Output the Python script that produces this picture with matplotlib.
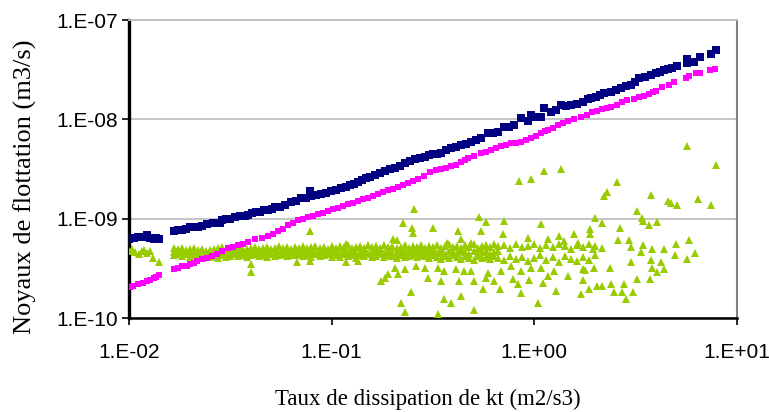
import matplotlib
matplotlib.use("Agg")
import matplotlib.pyplot as plt
import numpy as np

# ---- data (log10 values) ----
navy_lx = [-1.998,-1.988,-1.973,-1.958,-1.943,-1.929,-1.909,-1.894,-1.879,-1.865,-1.850,
           -1.776,-1.756,-1.737,-1.717,-1.697,-1.677,-1.658,-1.638,-1.613,-1.584,-1.549,-1.539,
           -1.520,-1.500,-1.475,-1.451,-1.426,-1.411,-1.392,-1.372,-1.352,-1.333,-1.313,-1.293,
           -1.278,-1.254,-1.229,-1.200,-1.175,-1.150,-1.126,-1.101,-1.106,-1.076,-1.052,-1.027,
           -1.002,-0.978,-0.953,-0.929,-0.909,-0.889,-0.869,-0.850,-0.830,-0.810,-0.786,-0.761,
           -0.736,-0.712,-0.687,-0.663,-0.638,-0.613,-0.589,-0.564,-0.539,-0.520,-0.500,-0.480,
           -0.461,-0.436,-0.411,-0.387,-0.362,-0.337,-0.313,-0.288,-0.264,-0.229,-0.205,-0.180,
           -0.150,-0.126,-0.101,-0.067,-0.032,-0.017,0.007,0.032,0.047,0.081,0.106,0.131,0.155,
           0.180,0.209,0.239,0.263,0.278,0.303,0.323,0.342,0.377,0.401,0.426,0.451,0.475,0.495,
           0.515,0.544,0.574,0.599,0.618,0.638,0.658,0.677,0.702,0.751,0.751,0.786,0.815,0.874,0.894]
navy_ly = [-9.202,-9.192,-9.192,-9.182,-9.182,-9.182,-9.162,-9.192,-9.202,-9.192,-9.202,
           -9.121,-9.111,-9.111,-9.101,-9.081,-9.081,-9.081,-9.071,-9.051,-9.040,-9.040,-9.010,
           -9.000,-9.000,-8.980,-8.970,-8.970,-8.960,-8.939,-8.929,-8.929,-8.909,-8.909,-8.899,
           -8.879,-8.879,-8.859,-8.828,-8.818,-8.788,-8.788,-8.768,-8.717,-8.758,-8.747,-8.737,
           -8.717,-8.707,-8.687,-8.677,-8.657,-8.646,-8.626,-8.606,-8.586,-8.576,-8.556,-8.545,
           -8.525,-8.505,-8.485,-8.465,-8.444,-8.424,-8.404,-8.394,-8.384,-8.364,-8.354,-8.354,
           -8.343,-8.313,-8.293,-8.283,-8.263,-8.253,-8.232,-8.212,-8.192,-8.141,-8.141,-8.131,
           -8.081,-8.081,-8.061,-7.990,-8.020,-7.960,-7.980,-7.980,-7.889,-7.929,-7.909,-7.859,-7.869,
           -7.859,-7.848,-7.828,-7.798,-7.788,-7.778,-7.758,-7.737,-7.727,-7.707,-7.687,-7.667,-7.657,-7.626,
           -7.586,-7.576,-7.556,-7.535,-7.525,-7.505,-7.495,-7.485,-7.465,-7.434,-7.394,-7.424,-7.374,-7.343,-7.303]

magenta_lx = [-2.000,-1.993,-1.978,-1.958,-1.933,-1.909,-1.894,-1.879,-1.865,-1.850,
              -1.776,-1.756,-1.737,-1.712,-1.697,-1.677,-1.663,-1.638,-1.613,-1.589,-1.564,-1.539,
              -1.510,-1.485,-1.461,-1.436,-1.411,-1.377,-1.342,-1.313,-1.288,-1.264,-1.239,-1.214,
              -1.190,-1.165,-1.140,-1.116,-1.091,-1.067,-1.042,-1.017,-0.993,-0.968,-0.943,-0.919,
              -0.894,-0.869,-0.845,-0.820,-0.796,-0.771,-0.746,-0.722,-0.697,-0.672,-0.648,-0.623,
              -0.598,-0.574,-0.544,-0.515,-0.485,-0.461,-0.436,-0.411,-0.387,-0.362,-0.342,-0.328,
              -0.298,-0.264,-0.239,-0.214,-0.190,-0.165,-0.140,-0.116,-0.091,-0.067,-0.042,-0.017,
              0.007,0.032,0.052,0.067,0.091,0.116,0.140,0.165,0.195,0.229,0.259,0.283,0.308,0.332,
              0.357,0.377,0.406,0.431,0.456,0.490,0.515,0.539,0.564,0.584,0.599,0.628,0.663,0.687,
              0.746,0.761,0.796,0.815,0.869,0.889]
magenta_ly = [-9.687,-9.687,-9.677,-9.657,-9.646,-9.626,-9.616,-9.596,-9.586,-9.566,
              -9.505,-9.495,-9.475,-9.475,-9.455,-9.444,-9.424,-9.404,-9.394,-9.374,-9.354,-9.323,
              -9.293,-9.283,-9.263,-9.253,-9.232,-9.202,-9.192,-9.172,-9.152,-9.121,-9.101,-9.061,
              -9.040,-9.010,-9.000,-8.980,-8.970,-8.949,-8.939,-8.919,-8.899,-8.889,-8.869,-8.848,
              -8.838,-8.818,-8.798,-8.788,-8.768,-8.747,-8.727,-8.707,-8.697,-8.677,-8.657,-8.636,
              -8.616,-8.596,-8.566,-8.535,-8.515,-8.495,-8.485,-8.465,-8.455,-8.434,-8.414,-8.394,
              -8.374,-8.343,-8.333,-8.313,-8.293,-8.273,-8.263,-8.242,-8.242,-8.232,-8.212,-8.192,
              -8.172,-8.141,-8.121,-8.111,-8.091,-8.061,-8.040,-8.020,-8.000,-7.980,-7.960,-7.929,
              -7.919,-7.899,-7.889,-7.879,-7.859,-7.828,-7.808,-7.798,-7.778,-7.768,-7.747,-7.727,
              -7.717,-7.677,-7.657,-7.626,-7.586,-7.566,-7.535,-7.535,-7.505,-7.495]

green_left_lx = [-1.998,-1.983,-1.968,-1.953,-1.938,-1.924,-1.909,-1.894,-1.884,-1.850]
green_left_ly = [-9.323,-9.303,-9.333,-9.354,-9.323,-9.313,-9.343,-9.323,-9.394,-9.434]

green_band_lx = [-1.78,-1.76,-1.74,-1.72,-1.70,-1.68,-1.66,-1.64,-1.62,-1.60,
                 -1.58,-1.56,-1.54,-1.52,-1.50,-1.48,-1.46,-1.44,-1.42,-1.40,
                 -1.38,-1.36,-1.34,-1.32,-1.30,-1.28,-1.26,-1.24,-1.22,-1.20,
                 -1.18,-1.16,-1.14,-1.12,-1.10,-1.08,-1.06,-1.04,-1.02,-1.00,
                 -0.98,-0.96,-0.94,-0.92,-0.90,-0.88,-0.86,-0.84,-0.82,-0.80,
                 -0.78,-0.76,-0.74,-0.72,-0.70,-0.68,-0.66,-0.64,-0.62,-0.60,
                 -0.58,-0.56,-0.54,-0.52,-0.50,-0.48,-0.46,-0.44,-0.42,-0.40,
                 -0.38,-0.36,-0.34,-0.32,-0.30,-0.28,-0.26,-0.24,-0.22,-0.20,
                 -0.18,-0.15,-0.12,-0.09,-0.06,-0.03,0.00,0.03,0.06,0.09,0.12,0.15,
                 0.18,0.21,0.24,0.27,0.30]
green_band_upper_ly = [-9.30,-9.31,-9.30,-9.32,-9.31,-9.30,-9.32,-9.31,-9.33,-9.32,
                       -9.31,-9.30,-9.29,-9.31,-9.30,-9.31,-9.29,-9.30,-9.31,-9.30,
                       -9.29,-9.31,-9.30,-9.29,-9.31,-9.30,-9.28,-9.30,-9.29,-9.31,
                       -9.29,-9.30,-9.28,-9.30,-9.29,-9.28,-9.30,-9.29,-9.31,-9.28,
                       -9.30,-9.28,-9.29,-9.27,-9.30,-9.29,-9.28,-9.30,-9.27,-9.29,
                       -9.28,-9.30,-9.27,-9.29,-9.28,-9.30,-9.29,-9.27,-9.30,-9.28,
                       -9.29,-9.27,-9.30,-9.28,-9.29,-9.27,-9.30,-9.28,-9.26,-9.29,
                       -9.28,-9.30,-9.27,-9.29,-9.26,-9.30,-9.28,-9.27,-9.29,-9.26,
                       -9.28,-9.27,-9.30,-9.26,-9.29,-9.28,-9.25,-9.30,-9.27,-9.29,-9.26,-9.28,
                       -9.31,-9.27,-9.29,-9.25,-9.28]
green_band_lower_ly = [-9.37,-9.36,-9.38,-9.36,-9.39,-9.37,-9.38,-9.40,-9.38,-9.39,
                       -9.38,-9.40,-9.37,-9.39,-9.38,-9.36,-9.38,-9.37,-9.39,-9.37,
                       -9.36,-9.38,-9.37,-9.39,-9.36,-9.38,-9.37,-9.36,-9.38,-9.37,
                       -9.37,-9.36,-9.38,-9.37,-9.39,-9.36,-9.38,-9.37,-9.36,-9.39,
                       -9.37,-9.39,-9.36,-9.38,-9.37,-9.40,-9.37,-9.38,-9.36,-9.39,
                       -9.38,-9.36,-9.39,-9.37,-9.38,-9.40,-9.37,-9.39,-9.38,-9.37,
                       -9.39,-9.37,-9.38,-9.40,-9.37,-9.39,-9.41,-9.38,-9.40,-9.37,
                       -9.39,-9.41,-9.38,-9.40,-9.42,-9.38,-9.40,-9.39,-9.41,-9.38,
                       -9.40,-9.42,-9.38,-9.41,-9.39,-9.43,-9.40,-9.37,-9.42,-9.39,-9.44,-9.38,
                       -9.41,-9.43,-9.39,-9.42,-9.37]
green_band_mid_ly = [-9.34,-9.33,-9.35,-9.34,-9.33,-9.35,-9.34,-9.35,-9.34,-9.33,
                     -9.34,-9.35,-9.33,-9.34,-9.35,-9.33,-9.34,-9.33,-9.35,-9.34,
                     -9.33,-9.34,-9.35,-9.33,-9.34,-9.33,-9.35,-9.34,-9.33,-9.34,
                     -9.35,-9.33,-9.34,-9.35,-9.33,-9.34,-9.33,-9.35,-9.34,-9.33,
                     -9.34,-9.35,-9.33,-9.34,-9.33,-9.35,-9.34,-9.33,-9.35,-9.34,
                     -9.33,-9.34,-9.35,-9.33,-9.34,-9.35,-9.33,-9.34,-9.35,-9.33,
                     -9.34,-9.33,-9.35,-9.34,-9.33,-9.35,-9.34,-9.36,-9.33,-9.34,
                     -9.35,-9.33,-9.34,-9.36,-9.33,-9.35,-9.34,-9.33,-9.36,-9.34,
                     -9.33]

green_out_lx = [-1.397,-1.397,-1.170,-1.106,-1.106,-0.929,-0.929,-0.869,-0.756,-0.736,-0.722,
                -0.687,-0.672,-0.638,-0.697,-0.677,-0.658,-0.638,-0.648,-0.608,-0.603,-0.598,
                -0.593,-0.584,-0.539,-0.525,-0.500,-0.475,-0.475,-0.461,-0.446,-0.446,-0.431,
                -0.411,-0.387,-0.377,-0.372,-0.362,-0.362,-0.347,-0.313,-0.313,-0.298,-0.298,
                -0.273,-0.264,-0.254,-0.239,-0.239,-0.229,-0.200,-0.170,-0.165,-0.155,-0.150,
                -0.116,-0.106,-0.081,-0.076,-0.067,-0.067,-0.032,-0.027,-0.017,-0.017,0.017,
                0.032,0.032,0.042,0.047,0.067,0.067,0.096,0.106,0.121,0.131,0.145,0.165,0.195,
                0.214,0.229,0.239,0.239,0.249,0.268,0.273,0.273,0.288,0.293,0.298,0.308,0.332,
                0.332,0.332,0.342,0.357,0.372,0.377,0.392,0.406,0.411,0.421,0.431,0.441,0.451,
                0.466,0.475,0.475,0.485,0.505,0.505,0.525,0.530,0.534,0.534,0.564,0.569,0.574,
                0.574,0.579,0.579,0.603,0.603,0.623,0.638,0.638,0.658,0.672,0.692,0.697,0.702,
                0.751,0.751,0.761,0.791,0.810,0.874,0.894]
green_out_ly = [-9.455,-9.535,-9.434,-9.121,-9.424,-9.253,-9.434,-9.424,-9.626,-9.596,-9.556,
                -9.495,-9.556,-9.505,-9.202,-9.212,-9.848,-9.939,-9.040,-9.737,-9.091,-9.141,
                -8.899,-9.475,-9.495,-9.596,-9.091,-9.495,-9.960,-9.626,-9.525,-9.808,-9.242,
                -9.848,-9.505,-9.121,-9.626,-9.202,-9.778,-9.525,-9.242,-9.525,-9.626,-9.919,
                -8.980,-9.121,-9.707,-9.030,-9.596,-9.545,-9.626,-9.707,-9.525,-9.152,-9.020,
                -9.475,-9.606,-9.657,-8.616,-9.525,-9.747,-9.192,-9.616,-8.596,-9.495,-9.848,
                -9.051,-9.495,-9.646,-8.525,-9.202,-9.576,-9.525,-9.727,-9.172,-8.505,-9.222,
                -9.576,-9.152,-9.242,-9.758,-9.505,-9.616,-9.515,-9.707,-9.101,-9.152,-9.303,
                -9.495,-8.990,-9.677,-9.040,-9.293,-9.677,-8.768,-8.727,-9.495,-9.657,-9.737,
                -8.626,-9.212,-9.091,-9.737,-9.657,-9.808,-9.212,-9.283,-9.434,-9.737,-8.919,
                -9.606,-9.333,-8.990,-9.020,-9.263,-9.061,-9.606,-8.758,-9.414,-9.303,-9.495,
                -9.030,-9.535,-9.434,-9.303,-9.505,-8.818,-8.838,-9.364,-9.253,-8.859,-8.273,
                -9.404,-9.212,-9.343,-8.798,-8.859,-8.455]

x_ticks = [1e-2, 1e-1, 1e0, 1e1]
x_tick_labels = ["1.E-02", "1.E-01", "1.E+00", "1.E+01"]
y_ticks = [1e-10, 1e-9, 1e-8, 1e-7]
y_tick_labels = ["1.E-10", "1.E-09", "1.E-08", "1.E-07"]

x_label = "Taux de dissipation de kt (m2/s3)"
y_label = "Noyaux de flottation (m3/s)"

NAVY = "#000080"
MAGENTA = "#FF00FF"
GREEN = "#99CC00"

# ---- figure ----
W, H = 769, 412
fig = plt.figure(figsize=(W / 100, H / 100), dpi=100)
ax = fig.add_axes([129 / W, 1 - 318 / H, (737 - 129) / W, (318 - 20) / H])
ax.set_xscale("log")
ax.set_yscale("log")
ax.set_xlim(1e-2, 1e1)
ax.set_ylim(1e-10, 1e-7)

def p(lx, ly):
    return 10 ** np.asarray(lx), 10 ** np.asarray(ly)

gx = list(green_left_lx) + list(green_band_lx) * 2 + list(green_band_lx[:len(green_band_mid_ly)]) + list(green_out_lx)
gy = list(green_left_ly) + list(green_band_upper_ly) + list(green_band_lower_ly) + list(green_band_mid_ly) + list(green_out_ly)

x, y = p(gx, gy)
ax.plot(x, y, linestyle="none", marker="^", ms=5.6, mew=0, color=GREEN, zorder=3)
x, y = p(magenta_lx, magenta_ly)
ax.plot(x, y, linestyle="none", marker="s", ms=4.5, mew=0, color=MAGENTA, zorder=4)
x, y = p(navy_lx, navy_ly)
ax.plot(x, y, linestyle="none", marker="s", ms=5.3, mew=0, color=NAVY, zorder=5)

ax.yaxis.grid(True, which="major", color="#c0c0c0", linewidth=1.3)
ax.set_axisbelow(True)
ax.minorticks_off()
ax.set_xticks(x_ticks)
ax.set_xticklabels(x_tick_labels)
ax.set_yticks(y_ticks)
ax.set_yticklabels(y_tick_labels)

ax.spines["left"].set_linewidth(2.4)
ax.spines["left"].set_color("black")
ax.spines["bottom"].set_linewidth(1.8)
ax.spines["bottom"].set_color("black")
ax.spines["right"].set_color("#808080")
ax.spines["right"].set_linewidth(1.5)
ax.spines["top"].set_color("#c0c0c0")
ax.spines["top"].set_linewidth(1.3)

tick_family = ["Liberation Sans", "DejaVu Sans"]
ax.tick_params(axis="both", which="major", direction="out", length=5, width=1.2, color="black")
ax.tick_params(axis="y", pad=3)
ax.tick_params(axis="x", pad=13)
for lab in ax.get_xticklabels() + ax.get_yticklabels():
    lab.set_fontfamily(tick_family)
    lab.set_fontsize(15)

fig.text(428 / W, 1 - 399 / H, x_label, ha="center", va="center",
         family=["Liberation Serif", "DejaVu Serif"], size=16.5)
fig.text(25 / W, 1 - 187 / H, y_label, ha="center", va="center", rotation=90,
         family=["Liberation Serif", "DejaVu Serif"], size=19)

fig.savefig("out.png", dpi=100)
